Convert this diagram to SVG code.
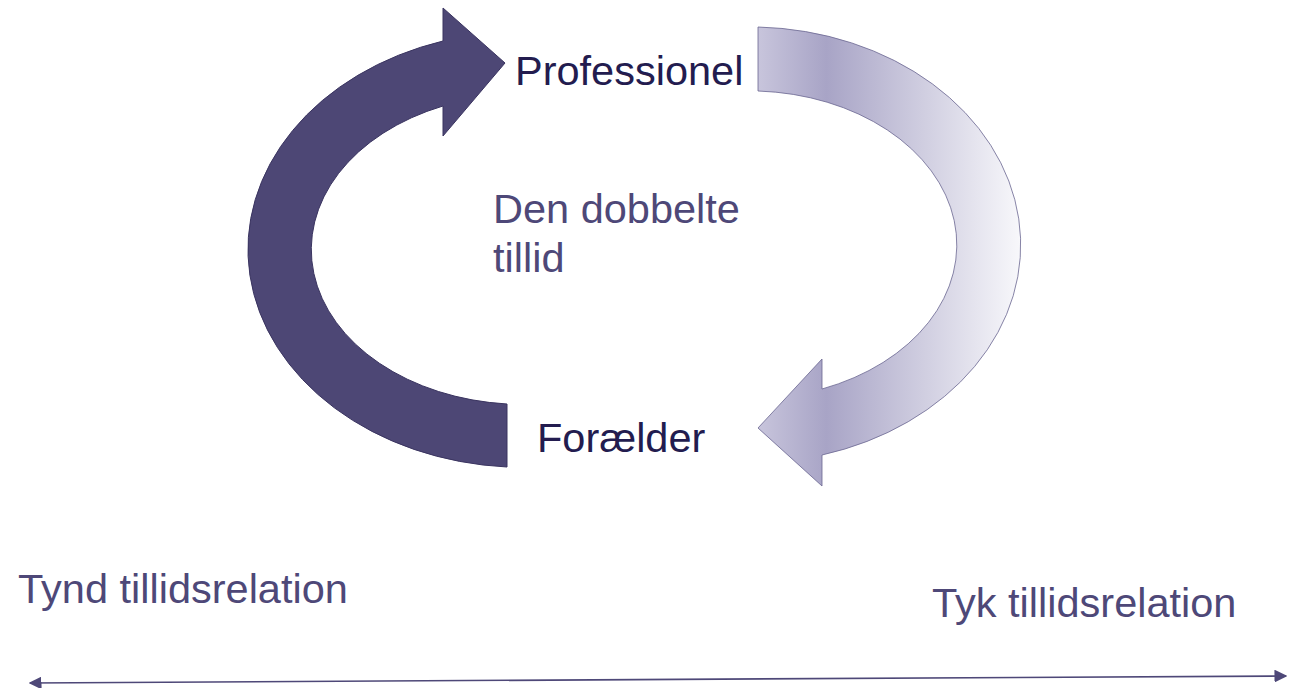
<svg xmlns="http://www.w3.org/2000/svg" width="1296" height="688" viewBox="0 0 1296 688">
<style>
  text { font-family: "Liberation Sans", Arial, sans-serif; font-size: 41.5px; }
  .dark { fill: #231c4f; }
  .mid { fill: #4e4878; }
  .axis { stroke: #4e4878; stroke-width: 1.6; fill: none; }
</style>
<defs>
  <linearGradient id="fade" gradientUnits="userSpaceOnUse" x1="758" y1="0" x2="1021" y2="0">
    <stop offset="0" stop-color="#c8c5dc"/>
    <stop offset="0.26" stop-color="#a8a4c6"/>
    <stop offset="1" stop-color="#f8f8fb"/>
  </linearGradient>
  <marker id="tip" viewBox="0 0 10 10" refX="9" refY="5" markerWidth="8" markerHeight="8" orient="auto-start-reverse" markerUnits="strokeWidth">
    <path d="M0,0 L10,5 L0,10 Z" fill="#4e4878"/>
  </marker>
</defs>
<rect width="1296" height="688" fill="#ffffff"/>
<g id="connectors">
  <path id="arrow-left" d="M507,404 L507,467 A276,218 0 0 1 443,41 L443,8 L505,63 L443,136 L443,106 A212,155 0 0 0 507,404 Z" fill="#4d4775" stroke="#3a3460" stroke-width="1"/>
  <path id="arrow-right" d="M758,27 A271,218 0 0 1 822,455 L822,486 L758,428 L822,359 L822,389 A208,154 0 0 0 758,91 Z" fill="url(#fade)" stroke="#6a6690" stroke-width="0.8"/>
  <line id="axis" class="axis" x1="30" y1="683" x2="1286" y2="676" marker-start="url(#tip)" marker-end="url(#tip)"/>
</g>
<g id="node-professionel"><text class="dark" x="515" y="85">Professionel</text></g>
<g id="node-center"><text class="mid" x="493" y="223">Den dobbelte</text><text class="mid" x="493" y="272">tillid</text></g>
<g id="node-foraelder"><text class="dark" x="537" y="452">Forælder</text></g>
<g id="label-tynd"><text class="mid" x="18" y="603">Tynd tillidsrelation</text></g>
<g id="label-tyk"><text class="mid" x="932" y="617">Tyk tillidsrelation</text></g>
</svg>
